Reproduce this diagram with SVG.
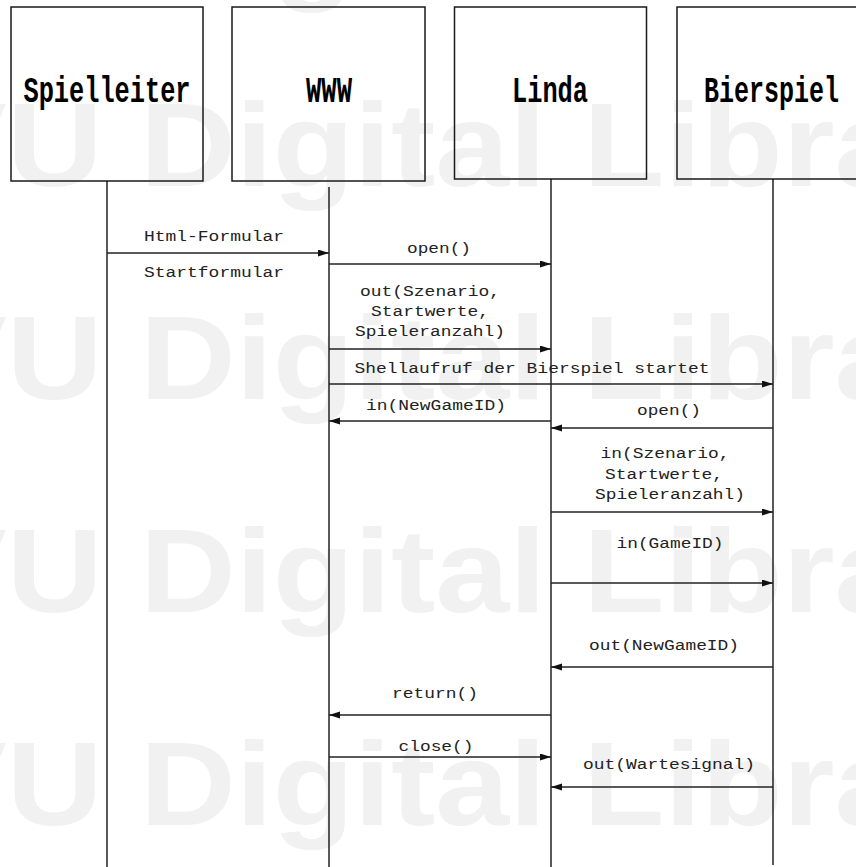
<svg xmlns="http://www.w3.org/2000/svg" width="856" height="867" viewBox="0 0 856 867">
<style>
.wm{font-family:"Liberation Sans",Arial,sans-serif;font-weight:bold;font-size:119px;fill:#f1f1f1}
.box{fill:none;stroke:#1a1a1a;stroke-width:1.5}
.hd{font-family:"Liberation Mono","Courier New",monospace;font-weight:bold;font-size:36px;fill:#000;text-anchor:middle}
.life{stroke:#000;stroke-width:1.3;fill:none}
.msg{stroke:#222;stroke-width:1.6;fill:none;marker-end:url(#ah)}
.lb{font-family:"Liberation Mono","Courier New",monospace;font-size:14.5px;fill:#222;text-anchor:middle}
</style>
<defs>
<marker id="ah" markerUnits="userSpaceOnUse" markerWidth="12" markerHeight="8" refX="11" refY="3.5" orient="auto">
<path d="M0,0 L11,3.5 L0,7 z" fill="#111"/>
</marker>
</defs>
<rect x="0" y="0" width="856" height="867" fill="#fff"/>
<g id="watermark">
<text class="wm" transform="translate(-82,-12) scale(1.118,1)">VU Digital Library</text>
<text class="wm" transform="translate(-82,186) scale(1.118,1)">VU Digital Library</text>
<text class="wm" transform="translate(-82,399) scale(1.118,1)">VU Digital Library</text>
<text class="wm" transform="translate(-82,612) scale(1.118,1)">VU Digital Library</text>
<text class="wm" transform="translate(-82,825) scale(1.118,1)">VU Digital Library</text>
</g>
<g id="spielleiter">
<rect class="box" x="11" y="7" width="192" height="174"/>
<text class="hd" x="107" y="102" textLength="167" lengthAdjust="spacingAndGlyphs">Spielleiter</text>
<line class="life" x1="107" y1="181" x2="107" y2="867"/>
</g>
<g id="www">
<rect class="box" x="232" y="7" width="193" height="174"/>
<text class="hd" x="329" y="102" textLength="46" lengthAdjust="spacingAndGlyphs">WWW</text>
<line class="life" x1="329" y1="187" x2="329" y2="867"/>
</g>
<g id="linda">
<rect class="box" x="454.5" y="7" width="192" height="172"/>
<text class="hd" x="550" y="102" textLength="76" lengthAdjust="spacingAndGlyphs">Linda</text>
<line class="life" x1="551" y1="179" x2="551" y2="867"/>
</g>
<g id="bierspiel">
<rect class="box" x="677" y="7" width="192" height="172"/>
<text class="hd" x="771.5" y="102" textLength="135" lengthAdjust="spacingAndGlyphs">Bierspiel</text>
<line class="life" x1="773" y1="179" x2="773" y2="865"/>
</g>
<g id="connectors">
<line class="msg" x1="107" y1="253" x2="329" y2="253"/>
<line class="msg" x1="329" y1="264" x2="551" y2="264"/>
<line class="msg" x1="329" y1="349" x2="551" y2="349"/>
<line class="msg" x1="329" y1="384" x2="773" y2="384"/>
<line class="msg" x1="551" y1="421" x2="329" y2="421"/>
<line class="msg" x1="773" y1="428" x2="551" y2="428"/>
<line class="msg" x1="551" y1="512" x2="773" y2="512"/>
<line class="msg" x1="551" y1="583" x2="773" y2="583"/>
<line class="msg" x1="773" y1="667" x2="551" y2="667"/>
<line class="msg" x1="551" y1="715" x2="329" y2="715"/>
<line class="msg" x1="329" y1="757" x2="551" y2="757"/>
<line class="msg" x1="773" y1="787" x2="551" y2="787"/>
</g>
<g id="labels">
<text class="lb" x="214" y="241" textLength="140" lengthAdjust="spacingAndGlyphs">Html-Formular</text>
<text class="lb" x="214" y="277" textLength="140" lengthAdjust="spacingAndGlyphs">Startformular</text>
<text class="lb" x="439" y="253" textLength="64" lengthAdjust="spacingAndGlyphs">open()</text>
<text class="lb" x="430" y="296" textLength="140" lengthAdjust="spacingAndGlyphs">out(Szenario,</text>
<text class="lb" x="430" y="316" textLength="118" lengthAdjust="spacingAndGlyphs">Startwerte,</text>
<text class="lb" x="430" y="336" textLength="150" lengthAdjust="spacingAndGlyphs">Spieleranzahl)</text>
<text class="lb" x="532" y="373" textLength="355" lengthAdjust="spacingAndGlyphs">Shellaufruf der Bierspiel startet</text>
<text class="lb" x="436" y="410" textLength="140" lengthAdjust="spacingAndGlyphs">in(NewGameID)</text>
<text class="lb" x="669" y="415" textLength="64" lengthAdjust="spacingAndGlyphs">open()</text>
<text class="lb" x="665" y="458" textLength="129" lengthAdjust="spacingAndGlyphs">in(Szenario,</text>
<text class="lb" x="664" y="479" textLength="118" lengthAdjust="spacingAndGlyphs">Startwerte,</text>
<text class="lb" x="670" y="499" textLength="150" lengthAdjust="spacingAndGlyphs">Spieleranzahl)</text>
<text class="lb" x="670" y="548" textLength="107" lengthAdjust="spacingAndGlyphs">in(GameID)</text>
<text class="lb" x="664" y="650" textLength="150" lengthAdjust="spacingAndGlyphs">out(NewGameID)</text>
<text class="lb" x="435" y="698" textLength="86" lengthAdjust="spacingAndGlyphs">return()</text>
<text class="lb" x="436" y="751" textLength="75" lengthAdjust="spacingAndGlyphs">close()</text>
<text class="lb" x="669" y="769" textLength="172" lengthAdjust="spacingAndGlyphs">out(Wartesignal)</text>
</g>
</svg>
